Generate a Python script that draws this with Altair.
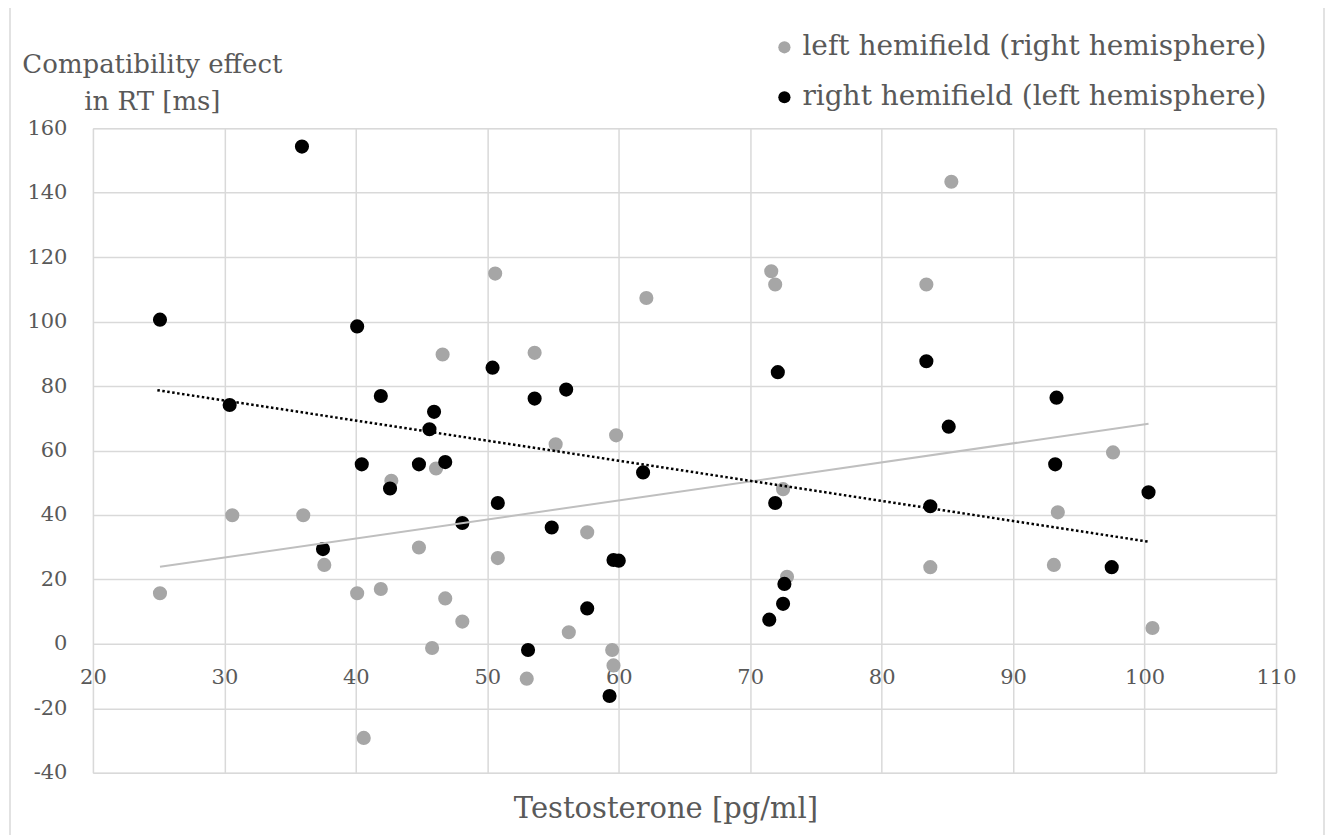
import altair as alt
import pandas as pd

LEFT_LABEL = "left hemifield (right hemisphere)"
RIGHT_LABEL = "right hemifield (left hemisphere)"

# gray series: left hemifield (right hemisphere)
left_x = [25.1, 30.6, 36.0, 37.6, 40.1, 40.6, 41.9, 42.7, 44.8, 45.8, 46.1, 46.6,
          46.8, 48.1, 50.6, 50.8, 53.0, 53.6, 55.2, 56.2, 57.6, 59.5, 59.6, 59.8,
          62.1, 71.6, 71.9, 72.5, 72.8, 83.4, 83.7, 85.3, 93.1, 93.4, 97.6, 100.6]
left_y = [15.7, 39.9, 39.9, 24.5, 15.7, -29.2, 17.0, 50.6, 29.9, -1.3, 54.4, 89.8,
          14.1, 6.9, 114.9, 26.6, -10.8, 90.3, 61.9, 3.6, 34.6, -1.9, -6.7, 64.7,
          107.3, 115.6, 111.5, 48.0, 20.8, 111.5, 23.8, 143.4, 24.5, 40.8, 59.4, 4.9]

# black series: right hemifield (left hemisphere)
right_x = [25.1, 30.4, 35.9, 37.5, 40.1, 40.45, 41.9, 42.6, 44.8, 45.6, 45.95, 46.8,
           48.1, 50.4, 50.8, 53.1, 53.6, 54.9, 56.0, 57.6, 59.3, 59.6, 60.0, 61.85,
           71.45, 71.9, 72.1, 72.5, 72.6, 83.4, 83.7, 85.1, 93.2, 93.3, 97.5, 100.3]
right_y = [100.6, 74.1, 154.3, 29.4, 98.5, 55.7, 76.9, 48.2, 55.7, 66.6, 72.0, 56.4,
           37.5, 85.7, 43.7, -1.9, 76.1, 36.1, 78.9, 11.0, -16.2, 26.0, 25.8, 53.2,
           7.5, 43.7, 84.3, 12.4, 18.6, 87.7, 42.7, 67.4, 55.7, 76.4, 23.8, 47.0]

# linear trendlines as drawn in the figure (end points)
trend_left_x = [25.1, 100.3]
trend_left_y = [23.9, 68.3]
trend_right_x = [24.9, 100.3]
trend_right_y = [78.7, 31.7]

x_ticks = [20, 30, 40, 50, 60, 70, 80, 90, 100, 110]
y_ticks = [-40, -20, 0, 20, 40, 60, 80, 100, 120, 140, 160]

df = pd.concat([
    pd.DataFrame({"x": left_x, "y": left_y, "series": LEFT_LABEL}),
    pd.DataFrame({"x": right_x, "y": right_y, "series": RIGHT_LABEL}),
], ignore_index=True)
df_tl = pd.DataFrame({"x": trend_left_x, "y": trend_left_y})
df_tr = pd.DataFrame({"x": trend_right_x, "y": trend_right_y})

TEXT = "#595959"
GRID = "#d9d9d9"
SERIF = "DejaVu Serif"

xscale = alt.Scale(domain=[20, 110], nice=False, zero=False)
yscale = alt.Scale(domain=[-40, 160], nice=False, zero=False)

xaxis = alt.Axis(
    values=x_ticks, grid=True, gridColor=GRID, gridWidth=1.5,
    domain=False, ticks=False, offset=-129,
    labelFont=SERIF, labelFontSize=21, labelColor=TEXT, labelPadding=23,
    labelFlush=False, labelExpr="'' + datum.value",
    title="Testosterone [pg/ml]", titleFont=SERIF, titleFontSize=29,
    titleFontWeight="normal", titleColor=TEXT, titleX=573, titleY=174,
    titleAlign="center", titleBaseline="alphabetic",
)
yaxis = alt.Axis(
    values=y_ticks, grid=True, gridColor=GRID, gridWidth=1.5,
    domain=False, ticks=False,
    labelFont=SERIF, labelFontSize=21, labelColor=TEXT, labelPadding=26,
    labelExpr="'' + datum.value",
    title=["Compatibility effect", "in RT [ms]"], titleFont=SERIF,
    titleFontSize=26, titleFontWeight="normal", titleColor=TEXT,
    titleAngle=0, titleAlign="center", titleBaseline="alphabetic",
    titleX=59, titleY=-56, titleLineHeight=37,
)

points = alt.Chart(df).mark_circle(size=200, opacity=1).encode(
    x=alt.X("x:Q", scale=xscale, axis=xaxis),
    y=alt.Y("y:Q", scale=yscale, axis=yaxis),
    color=alt.Color(
        "series:N",
        scale=alt.Scale(domain=[LEFT_LABEL, RIGHT_LABEL], range=["#a6a6a6", "#000000"]),
        legend=alt.Legend(
            title=None, orient="none", legendX=678, legendY=-95,
            symbolType="circle", symbolSize=150, symbolStrokeWidth=0,
            labelFont=SERIF, labelFontSize=28, labelColor=TEXT,
            labelOffset=4, labelLimit=700, rowPadding=22, padding=0,
        ),
    ),
)

trend_left = alt.Chart(df_tl).mark_line(color="#bfbfbf", strokeWidth=2).encode(
    x=alt.X("x:Q", scale=xscale), y=alt.Y("y:Q", scale=yscale)
)

trend_right = alt.Chart(df_tr).mark_line(
    color="#000000", strokeWidth=2.5, strokeDash=[2.5, 2.5]
).encode(x=alt.X("x:Q", scale=xscale), y=alt.Y("y:Q", scale=yscale))

frame = alt.Chart(alt.Data(values=[{"f": 1}])).mark_rect(
    fillOpacity=0, stroke=GRID, strokeWidth=1.5
).encode(
    x=alt.value(-83), x2=alt.value(1232), y=alt.value(-121), y2=alt.value(740)
)

chart = alt.layer(frame, points, trend_left, trend_right).properties(
    width=1184, height=645,
    autosize=alt.AutoSizeParams(type="none"),
    padding={"left": 85, "top": 120, "right": 50, "bottom": 62},
).configure_view(stroke=None).configure(background="white")

chart.save("out.html", embed_options={"renderer": "svg", "actions": False})
